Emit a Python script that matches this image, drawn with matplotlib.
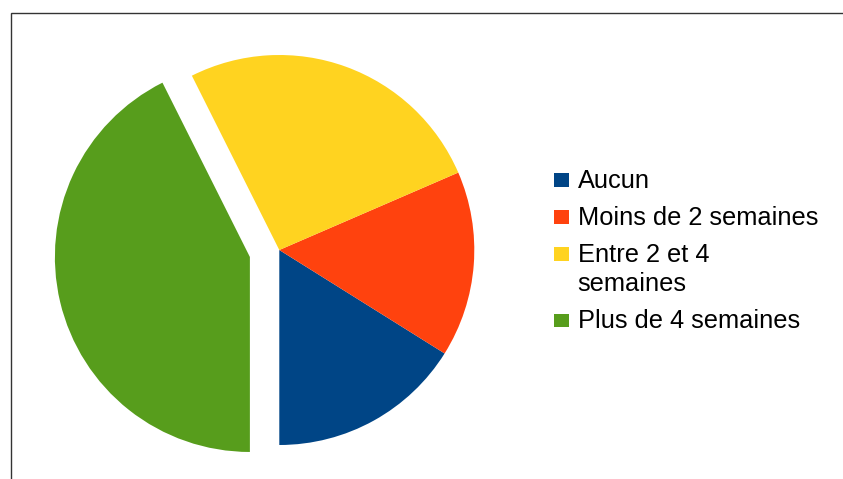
import matplotlib.pyplot as plt
from matplotlib.patches import Rectangle

# Data
labels = ['Aucun', 'Moins de 2 semaines', 'Entre 2 et 4\nsemaines', 'Plus de 4 semaines']
values = [16.1, 15.4, 25.9, 42.6]
colors = ['#004586', '#ff420e', '#ffd320', '#579d1c']
explode = [0, 0, 0, 0.155]

plt.rcParams['font.family'] = ['Liberation Sans', 'DejaVu Sans']

W, H = 843, 479
fig = plt.figure(figsize=(W / 100, H / 100), dpi=100)
ax = fig.add_axes([0, 0, 1, 1])

wedges, _ = ax.pie(values, colors=colors, explode=explode, startangle=270,
                   counterclock=True, radius=1.0,
                   wedgeprops=dict(linewidth=0, antialiased=True))

# pie centre at (279, 250) px, radius 195 px
r = 195.0
cx, cy = 279.3, 250.0
ax.set_xlim(-cx / r, (W - cx) / r)
ax.set_ylim(-(H - cy) / r, cy / r)
ax.set_aspect('auto')
ax.axis('off')

# outer frame (only top and left visible)
frame = Rectangle((10.5 / W, -0.1), 2, 1 - 13 / H + 0.1, transform=fig.transFigure,
                  fill=False, edgecolor='#333333', linewidth=1.0)
fig.add_artist(frame)

# legend drawn by hand so the square sits on the first line of a wrapped label
base = 187.7      # baseline of first entry, px from top
row_gap = 37.0    # baseline to baseline between entries
line_gap = 29.5   # baseline to baseline inside one entry
for w, lab in zip(wedges, labels):
    sq = Rectangle((554 / W, 1 - (base - 1) / H), 15 / W, 13.5 / H,
                   transform=fig.transFigure, facecolor=w.get_facecolor(),
                   edgecolor='none')
    fig.add_artist(sq)
    lines = lab.split('\n')
    for i, line in enumerate(lines):
        fig.text(577.5 / W, 1 - (base + i * line_gap) / H, line,
                 fontsize=18.3, va='baseline', ha='left', color='black')
    base += row_gap + line_gap * (len(lines) - 1)

fig.savefig('out.png', dpi=100)
